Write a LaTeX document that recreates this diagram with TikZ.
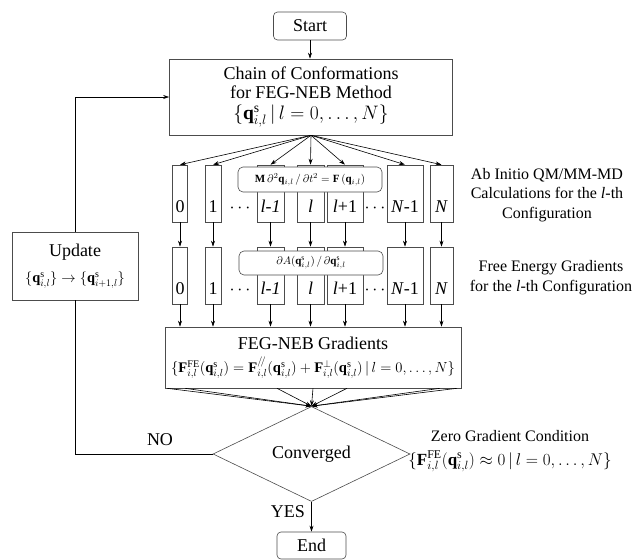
\RequirePackage{fix-cm}
\documentclass[tikz,border=0pt]{standalone}
\usepackage{fontspec}
\setmainfont{Liberation Serif}
\usetikzlibrary{arrows.meta,shapes.geometric}
\newcommand\bigtxt{\fontsize{18}{19}\selectfont}
\newcommand\notetxt{\fontsize{16}{19.5}\selectfont}
\newcommand\labtxt{\fontsize{11}{13}\selectfont}
\newcommand\qs{\mathbf{q}^{\mathrm{s}}_{i,l}}

\begin{document}
\begin{tikzpicture}[x=1pt,y=-1pt,>={Stealth[length=6pt,width=4pt]},semithick,
  box/.style={draw=black!70,align=center,inner sep=0pt,font=\bigtxt},
  term/.style={box,rounded corners=4pt},
  col/.style={draw=black!70,inner sep=0pt,minimum height=57},
  num/.style={anchor=base,inner sep=1pt,font=\bigtxt},
  lab/.style={draw=black!70,fill=white,rounded corners=5pt,inner sep=0pt,font=\labtxt},
  note/.style={align=center,font=\notetxt},
  dec/.style={draw=black!70,diamond,inner sep=0pt,font=\bigtxt,minimum width=197,minimum height=76}]
\useasboundingbox (0,0) rectangle (633,560);

\node[term,minimum width=73,minimum height=28] (start) at (310,26) {Start};
\node[box,minimum width=283,minimum height=76] (chain) at (311,97)
  {Chain of Conformations\\for FEG-NEB Method\\[2pt]{\fontsize{19.5}{20}\selectfont$\{\qs\,|\,l=0,\ldots,N\}$}};
\draw[->] (start.south) -- (start.south |- chain.north);

\foreach \x/\w/\t [count=\k] in {180/15/0, 213/16/1, 270.5/27/\textit{l-1}, 310.5/27/\textit{l},
    345/36/\textit{l}+1, 405/36/\textit{N}-1, 441.5/23/\textit{N}} {
  \node[col,minimum width=\w] (a\k) at (\x,193.5) {};
  \node[col,minimum width=\w] (b\k) at (\x,275.5) {};
  \node[num] (ta\k) at (\x,212) {\t};
  \node[num] (tb\k) at (\x,294) {\t};
  \draw[->] (chain.south) -- (a\k.north);
  \draw[->] (a\k) -- (b\k);
}
\node[num] (dotsa) at (240,212) {$\cdots$};
\node[num] (dotsb) at (375,212) {$\cdots$};
\node[num] (dotsc) at (240,294) {$\cdots$};
\node[num] (dotsd) at (375,294) {$\cdots$};

\node[lab,minimum width=144,minimum height=25] (md) at (310,179.5)
  {$\mathbf{M}\,\partial^{2}\mathbf{q}_{i,l}\,/\,\partial t^{2}=\mathbf{F}\,(\mathbf{q}_{i,l})$};
\node[lab,minimum width=144,minimum height=24] (grad) at (311,263)
  {$\partial A(\qs)\,/\,\partial\qs$};

\node[box,minimum width=296,minimum height=61] (feg) at (313,357.5)
  {FEG-NEB Gradients\\[4pt]{\fontsize{14.6}{16}\selectfont$\{\mathbf{F}^{\mathrm{FE}}_{i,l}(\qs)=\mathbf{F}^{/\!/}_{i,l}(\qs)+\mathbf{F}^{\perp}_{i,l}(\qs)\,|\,l=0,\ldots,N\}$}};
\foreach \k in {1,...,7}
  \draw[->] (b\k) -- (b\k |- feg.north);

\node[dec] (dec) at (311.5,454) {Converged};
\foreach \dx in {-146,-128,-36,0,34,127,144}
  \draw[->] ([xshift=\dx]feg.south) -- (dec.north);

\node[term,minimum width=69,minimum height=27] (end) at (311.5,545.5) {End};
\draw[->] (dec) -- (end);
\node[font=\bigtxt] (yes) at (288,512) {YES};

\node[box,minimum width=126,minimum height=68] (upd) at (75,266)
  {Update\\[7pt]{\fontsize{14.4}{16}\selectfont$\{\qs\}\rightarrow\{\mathbf{q}^{\mathrm{s}}_{i+1,l}\}$}};
\draw (dec.west) -| (upd.south);
\draw[->] (upd.north) |- (chain.west);
\node[font=\bigtxt] (no) at (160,440) {NO};

\node[note] (abinit) at (547,195) {Ab Initio QM/MM-MD\\Calculations for the \textit{l}-th\\Configuration};
\node[note] (fegrad) at (551,277.5) {Free Energy Gradients\\for the \textit{l}-th Configuration};
\node[note] (zero) at (510,451)
  {Zero Gradient Condition\\[4pt]{\fontsize{17}{18}\selectfont$\{\mathbf{F}^{\mathrm{FE}}_{i,l}(\qs)\approx 0\,|\,l=0,\ldots,N\}$}};
\end{tikzpicture}
\end{document}
